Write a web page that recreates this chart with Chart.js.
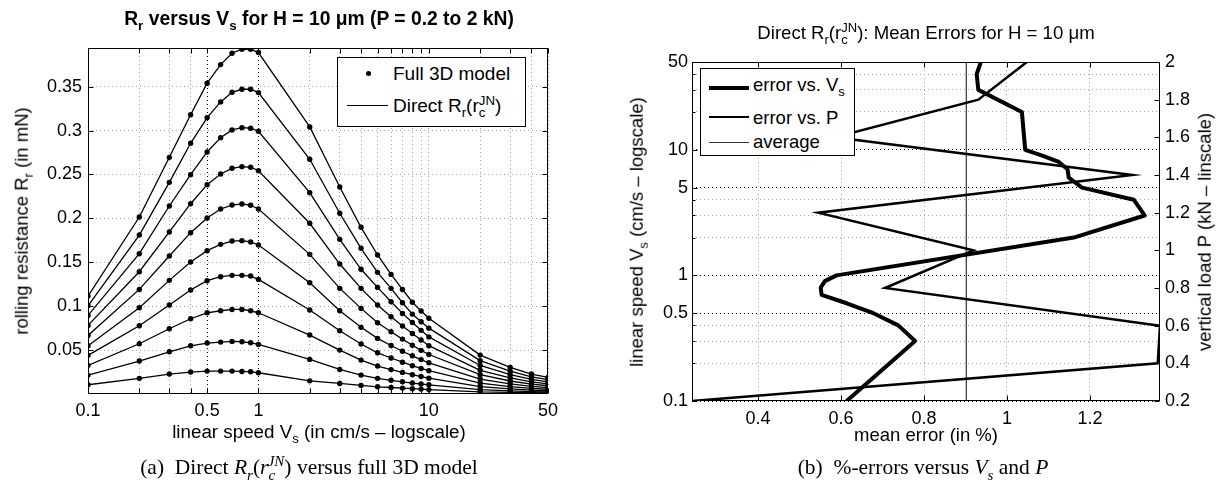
<!DOCTYPE html>
<html><head><meta charset="utf-8">
<script src="https://cdn.jsdelivr.net/npm/chart.js@4.4.1/dist/chart.umd.min.js"></script>
<style>
html,body{margin:0;padding:0;background:#fff;}
#wrap{position:relative;width:1222px;height:492px;overflow:hidden;font-family:"Liberation Sans",Arial,Helvetica,sans-serif;color:#000;background:#fff;}
canvas{position:absolute;top:0;}
.t{position:absolute;white-space:nowrap;line-height:1;font-size:18px;}
.c{transform:translateX(-50%);}
.rot{transform:translate(-50%,-50%) rotate(-90deg);}
sub,sup{font-size:70%;line-height:0;position:relative;vertical-align:baseline;}
sub{top:0.38em;} sup{top:-0.55em;}
sup.o{margin-left:-0.5em;}
.cap{font-family:"Liberation Serif","Times New Roman",serif;font-size:21.5px;}
.leg{position:absolute;box-sizing:border-box;border:1px solid #000;background:#fff;z-index:5;}
.leg .s{position:absolute;background:#000;}
.leg .tx{position:absolute;white-space:nowrap;line-height:1;}
</style></head>
<body><div id="wrap">
<canvas id="cL" width="600" height="440" style="left:0"></canvas>
<canvas id="cR" width="622" height="440" style="left:600px"></canvas>

<div class="t c" style="left:319px;top:9px;font-size:19.3px;font-weight:bold;">R<sub>r</sub> versus V<sub>s</sub> for H = 10 μm (P = 0.2 to 2 kN)</div>
<div class="t c" style="left:319px;top:423px;font-size:18.8px;">linear speed V<sub>s</sub> (in cm/s – logscale)</div>
<div class="t rot" style="left:22px;top:221px;font-size:18.5px;">rolling resistance R<sub>r</sub> (in mN)</div>

<div class="t c" style="left:926px;top:24px;font-size:18.6px;">Direct R<sub>r</sub>(r<sub>c</sub><sup class="o">JN</sup>): Mean Errors for H = 10 μm</div>
<div class="t c" style="left:926px;top:426px;font-size:18.5px;">mean error (in %)</div>
<div class="t rot" style="left:637px;top:232px;font-size:18.5px;">linear speed V<sub>s</sub> (cm/s – logscale)</div>
<div class="t rot" style="left:1205px;top:232px;font-size:18.5px;">vertical load P (kN – linscale)</div>

<div class="t c cap" style="left:309px;top:457px;">(a)&nbsp; Direct <i>R<sub>r</sub></i>(<i>r<sub>c</sub><sup class="o">JN</sup></i>) versus full 3D model</div>
<div class="t c cap" style="left:923px;top:457px;">(b)&nbsp; %-errors versus <i>V<sub>s</sub></i> and <i>P</i></div>

<div class="leg" style="left:337px;top:57px;width:189px;height:70px;">
  <div class="s" style="left:28px;top:13px;width:5px;height:5px;border-radius:50%;"></div>
  <div class="tx" style="left:55px;top:6px;font-size:19px;">Full 3D model</div>
  <div class="s" style="left:9px;top:47px;width:41px;height:1.3px;"></div>
  <div class="tx" style="left:55px;top:38px;font-size:19px;">Direct R<sub>r</sub>(r<sub>c</sub><sup class="o">JN</sup>)</div>
</div>

<div class="leg" style="left:700px;top:68px;width:155px;height:88px;">
  <div class="s" style="left:8px;top:17px;width:40px;height:4px;"></div>
  <div class="tx" style="left:52px;top:7px;font-size:18.5px;">error vs. V<sub>s</sub></div>
  <div class="s" style="left:8px;top:46.5px;width:40px;height:2.5px;"></div>
  <div class="tx" style="left:52px;top:40px;font-size:18.5px;">error vs. P</div>
  <div class="s" style="left:8px;top:72.5px;width:40px;height:1.2px;background:#333;"></div>
  <div class="tx" style="left:52px;top:64px;font-size:18.5px;">average</div>
</div>
</div>

<script>
// ---------- data ----------
const speeds = [0.1,0.2,0.3,0.4,0.5,0.6,0.7,0.8,0.9,1,2,3,4,5,6,7,8,9,10,20,30,40,50];
const loads  = [0.2,0.4,0.6,0.8,1,1.2,1.4,1.6,1.8,2];

// rolling resistance (mN) vs speed, one array per load P (kN)
const rrP20 = [0.1115,0.2015,0.2695,0.3180,0.3539,0.3751,0.3880,0.3926,0.3926,0.3888,0.3041,0.2357,0.1898,0.1583,0.1362,0.1191,0.1045,0.0945,0.0862,0.0443,0.0303,0.0227,0.0189];
const rrP18 = [0.1005,0.1810,0.2410,0.2855,0.3147,0.3326,0.3436,0.3470,0.3470,0.3432,0.2673,0.2058,0.1659,0.1385,0.1203,0.1039,0.0910,0.0823,0.0750,0.0380,0.0260,0.0195,0.0163];
const rrP16 = [0.0895,0.1598,0.2141,0.2498,0.2756,0.2919,0.3007,0.3033,0.3026,0.2992,0.2293,0.1761,0.1420,0.1214,0.1050,0.0918,0.0815,0.0725,0.0650,0.0325,0.0220,0.0167,0.0139];
const rrP14 = [0.0781,0.1392,0.1845,0.2167,0.2384,0.2505,0.2570,0.2589,0.2582,0.2543,0.1944,0.1480,0.1203,0.1013,0.0880,0.0774,0.0690,0.0615,0.0550,0.0270,0.0183,0.0139,0.0116];
const rrP12 = [0.0667,0.1191,0.1571,0.1837,0.2004,0.2107,0.2152,0.2164,0.2149,0.2107,0.1590,0.1203,0.0975,0.0811,0.0709,0.0625,0.0555,0.0497,0.0450,0.0220,0.0148,0.0112,0.0094];
const rrP10 = [0.0549,0.0982,0.1294,0.1503,0.1632,0.1704,0.1742,0.1746,0.1731,0.1697,0.1267,0.0948,0.0759,0.0633,0.0552,0.0487,0.0435,0.0392,0.0355,0.0170,0.0115,0.0087,0.0073];
const rrP08 = [0.0440,0.0777,0.1013,0.1184,0.1290,0.1336,0.1351,0.1351,0.1343,0.1305,0.0956,0.0720,0.0569,0.0469,0.0410,0.0362,0.0323,0.0291,0.0265,0.0125,0.0085,0.0064,0.0054];
const rrP06 = [0.0326,0.0572,0.0743,0.0857,0.0925,0.0948,0.0963,0.0963,0.0948,0.0925,0.0671,0.0500,0.0386,0.0318,0.0278,0.0246,0.0220,0.0199,0.0180,0.0085,0.0058,0.0044,0.0037];
const rrP04 = [0.0215,0.0375,0.0481,0.0549,0.0580,0.0591,0.0599,0.0595,0.0583,0.0565,0.0394,0.0280,0.0215,0.0178,0.0156,0.0139,0.0125,0.0114,0.0105,0.0050,0.0035,0.0027,0.0023];
const rrP02 = [0.0105,0.0178,0.0227,0.0250,0.0261,0.0261,0.0261,0.0257,0.0253,0.0242,0.0150,0.0120,0.0098,0.0082,0.0074,0.0067,0.0061,0.0056,0.0050,0.0025,0.0018,0.0014,0.0012];
const rrCurves = [rrP20, rrP18, rrP16, rrP14, rrP12, rrP10, rrP08, rrP06, rrP04, rrP02];

// mean errors (%)
const errVsSpeed = [0.6135,0.7174,0.7785,0.738,0.678,0.6135,0.553,0.551,0.561,0.589,1.161,1.332,1.306,1.181,1.149,1.146,1.125,1.085,1.044,1.036,0.931,0.927,0.937];
const errVsLoad  = [0.2406,1.3635,1.369,0.706,0.919,0.545,1.302,0.585,0.931,1.048];
const avgError = 0.902;

// tick definitions
const leftXTicks   = [0.1,0.2,0.3,0.4,0.5,1,2,3,4,5,6,7,8,9,10,20,30,40,50];
const leftXLabels  = [0.1,0.5,1,10,50];
const leftXMajor   = [0.5,1];
const leftYTicks   = [0.05,0.1,0.15,0.2,0.25,0.3,0.35];
const rightXTicks  = [0.4,0.6,0.8,1,1.2];
const rightYTicks  = [0.1,0.2,0.3,0.4,0.5,1,2,3,4,5,10,20,30,40,50];
const rightYLabels = [0.1,0.5,1,5,10,50];

// ---------- helpers ----------
Chart.defaults.font.family = '"Liberation Sans", Arial, Helvetica, sans-serif';
Chart.defaults.font.size = 18;
Chart.defaults.color = '#000';

const near = (arr, v) => arr.some(a => Math.abs(a - v) < 1e-9);

function framePlugin(spec) {
  return {
    id: 'frame',
    afterDraw(chart) {
      const ctx = chart.ctx, a = chart.chartArea;
      ctx.save();
      ctx.strokeStyle = '#000';
      ctx.lineWidth = 1;
      const L = Math.round(a.left) + 0.5, R = Math.round(a.right) - 0.5;
      const T = Math.round(a.top) + 0.5, B = Math.round(a.bottom) - 0.5;
      spec.forEach(s => {
        const sc = chart.scales[s.id];
        sc.ticks.forEach(t => {
          const len = (s.major && !near(s.major, t.value)) ? 3 : 5;
          const p = Math.round(sc.getPixelForValue(t.value)) + 0.5;
          ctx.beginPath();
          if (sc.isHorizontal()) {
            ctx.moveTo(p, B); ctx.lineTo(p, B - len);
            ctx.moveTo(p, T); ctx.lineTo(p, T + len);
          } else {
            if (s.side !== 'right') { ctx.moveTo(L, p); ctx.lineTo(L + len, p); }
            if (s.side !== 'left')  { ctx.moveTo(R, p); ctx.lineTo(R - len, p); }
          }
          ctx.stroke();
        });
      });
      ctx.strokeRect(L, T, R - L, B - T);
      ctx.restore();
    }
  };
}

// ---------- left chart ----------
new Chart(document.getElementById('cL'), {
  type: 'scatter',
  data: {
    datasets: rrCurves.map(arr => ({
      data: speeds.map((v, i) => ({ x: v, y: arr[i] })),
      showLine: true,
      borderColor: '#000',
      borderWidth: 1.3,
      pointRadius: 2.7,
      pointBackgroundColor: '#000',
      pointBorderWidth: 0,
      tension: 0
    }))
  },
  options: {
    responsive: false, animation: false, devicePixelRatio: 1,
    layout: { padding: { top: 48, right: 52, left: 0, bottom: 0 } },
    plugins: { legend: { display: false }, tooltip: { enabled: false } },
    scales: {
      x: {
        type: 'logarithmic', min: 0.1, max: 50,
        afterBuildTicks: s => { s.ticks = leftXTicks.map(v => ({ value: v })); },
        afterFit: s => { s.height = 46; },
        ticks: { autoSkip: false, maxRotation: 0, padding: 6,
          callback: v => near(leftXLabels, v) ? String(v) : '' },
        grid: { drawTicks: false, lineWidth: 1,
          color: c => (c.tick && near(leftXMajor, c.tick.value)) ? '#000' : '#a8a8a8' },
        border: { display: false, dash: [1, 3] }
      },
      y: {
        type: 'linear', min: 0, max: 0.394,
        afterBuildTicks: s => { s.ticks = leftYTicks.map(v => ({ value: v })); },
        afterFit: s => { s.width = 88; },
        ticks: { autoSkip: false, padding: 6, callback: v => String(v) },
        grid: { drawTicks: false, lineWidth: 1, color: '#a8a8a8' },
        border: { display: false, dash: [1, 3] }
      }
    }
  },
  plugins: [framePlugin([{ id: 'x' }, { id: 'y' }])]
});

// ---------- right chart ----------
const errMin = Math.min(...errVsLoad, ...errVsSpeed);
const errMax = Math.max(...errVsLoad, ...errVsSpeed);

new Chart(document.getElementById('cR'), {
  type: 'scatter',
  data: {
    datasets: [
      { label: 'error vs. Vs', yAxisID: 'y',
        data: speeds.map((v, i) => ({ x: errVsSpeed[i], y: v })),
        showLine: true, borderColor: '#000', borderWidth: 4, pointRadius: 0, borderJoinStyle: 'round' },
      { label: 'error vs. P', yAxisID: 'y2',
        data: loads.map((v, i) => ({ x: errVsLoad[i], y: v })),
        showLine: true, borderColor: '#000', borderWidth: 2.5, pointRadius: 0 },
      { label: 'average', yAxisID: 'y',
        data: [{ x: avgError, y: speeds[0] }, { x: avgError, y: speeds[speeds.length - 1] }],
        showLine: true, borderColor: '#333', borderWidth: 1.2, pointRadius: 0 }
    ]
  },
  options: {
    responsive: false, animation: false, devicePixelRatio: 1,
    layout: { padding: { top: 62, right: 0, left: 0, bottom: 0 } },
    plugins: { legend: { display: false }, tooltip: { enabled: false } },
    scales: {
      x: {
        type: 'linear', min: errMin, max: errMax,
        afterBuildTicks: s => { s.ticks = rightXTicks.map(v => ({ value: v })); },
        afterFit: s => { s.height = 39; },
        ticks: { autoSkip: false, maxRotation: 0, padding: 7, callback: v => String(v) },
        grid: { drawTicks: false, lineWidth: 1, color: '#a8a8a8' },
        border: { display: false, dash: [1, 3] }
      },
      y: {
        type: 'logarithmic', position: 'left', min: 0.1, max: 50,
        afterBuildTicks: s => { s.ticks = rightYTicks.map(v => ({ value: v })); },
        afterFit: s => { s.width = 92; },
        ticks: { autoSkip: false, padding: 4,
          callback: v => near(rightYLabels, v) ? String(v) : '' },
        grid: { drawTicks: false, lineWidth: 1,
          color: c => (c.tick && near(rightYLabels, c.tick.value)) ? '#000' : '#a8a8a8' },
        border: { display: false, dash: [1, 3] }
      },
      y2: {
        type: 'linear', position: 'right', min: 0.2, max: 2,
        afterBuildTicks: s => { s.ticks = loads.map(v => ({ value: v })); },
        afterFit: s => { s.width = 62; },
        ticks: { autoSkip: false, padding: 5, callback: v => String(v) },
        grid: { drawTicks: false, drawOnChartArea: false },
        border: { display: false }
      }
    }
  },
  plugins: [framePlugin([{ id: 'x' }, { id: 'y', side: 'left', major: rightYLabels }, { id: 'y2', side: 'right' }])]
});
</script>
</body></html>
